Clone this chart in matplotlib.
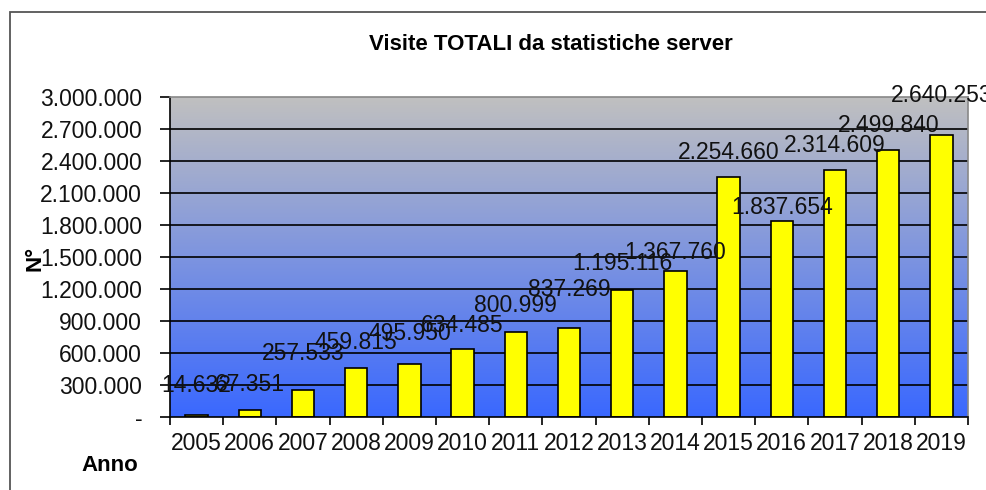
import matplotlib
matplotlib.use("Agg")
import matplotlib.pyplot as plt
import numpy as np
from matplotlib.patches import Rectangle

years = ['2005', '2006', '2007', '2008', '2009', '2010', '2011', '2012',
         '2013', '2014', '2015', '2016', '2017', '2018', '2019']
visits = [14632, 67351, 257533, 459815, 495950, 634485, 800999, 837269,
          1195116, 1367760, 2254660, 1837654, 2314609, 2499840, 2640253]
y_ticks = [0, 300000, 600000, 900000, 1200000, 1500000, 1800000,
           2100000, 2400000, 2700000, 3000000]
# vertical offsets of the data labels above bar tops (pixels)
label_offsets_px = [30, 25, 36, 25, 31, 24, 26, 38, 26, 19, 24, 13, 25, 25, 40]


def fmt(v):
    return '-' if v == 0 else f"{v:,}".replace(',', '.')


plt.rcParams['font.family'] = ['Liberation Sans', 'DejaVu Sans']
W, H = 986, 490
fig = plt.figure(figsize=(W / 100, H / 100), dpi=100)
ax = fig.add_axes([170 / W, 73 / H, 798 / W, 320 / H])

# outer chart border (extends beyond the image edges)
fig.patches.append(Rectangle((10 / W, -0.1), 1.2, (1 - 12 / H) + 0.1,
                             transform=fig.transFigure, fill=False,
                             ec='#555555', lw=1.3))

n = len(years)
x = np.arange(n)
ax.set_xlim(-0.5, n - 0.5)
ax.set_ylim(0, 3000000)

# gradient background
top = np.array([192, 192, 192]) / 255
bot = np.array([58, 104, 255]) / 255
t = np.linspace(0, 1, 256)[:, None]
grad = (top * (1 - t) + bot * t)[:, None, :]
ax.imshow(grad, extent=[-0.5, n - 0.5, 0, 3000000], aspect='auto',
          origin='upper', zorder=0)

for yv in y_ticks[1:-1]:
    ax.axhline(yv, color='black', lw=1.2, zorder=1)

ax.bar(x, visits, width=0.42, color='#FFFF00', edgecolor='black',
       linewidth=1.2, zorder=2)

for i, v in enumerate(visits):
    ax.annotate(fmt(v), (i, v), xytext=(0, label_offsets_px[i] * 0.72),
                textcoords='offset points', ha='center', va='center',
                fontsize=16.5, color='#111111', zorder=3, annotation_clip=False)

ax.set_yticks(y_ticks, [fmt(v) for v in y_ticks])
ax.tick_params(axis='y', length=7, width=1.2, pad=13, labelsize=16.5,
               labelcolor='#111111')
ax.set_xticks(x, years)
ax.tick_params(axis='x', which='major', length=0, pad=11, labelsize=16.5,
               labelcolor='#111111')
ax.set_xticks(np.arange(-0.5, n, 1), minor=True)
ax.tick_params(axis='x', which='minor', length=6, width=1.2)

for s in ['left', 'bottom']:
    ax.spines[s].set_color('black')
    ax.spines[s].set_linewidth(1.2)
for s in ['top', 'right']:
    ax.spines[s].set_color('#888888')
    ax.spines[s].set_linewidth(1.2)

fig.text(551 / W, 1 - 45 / H, 'Visite TOTALI da statistiche server',
         ha='center', va='center', fontsize=16, fontweight='bold')
fig.text(35 / W, 1 - 258 / H, 'N°', rotation=90, ha='center', va='center',
         fontsize=16, fontweight='bold')
fig.text(110 / W, 1 - 465 / H, 'Anno', ha='center', va='center',
         fontsize=16, fontweight='bold')

fig.savefig('out.png', dpi=100)
